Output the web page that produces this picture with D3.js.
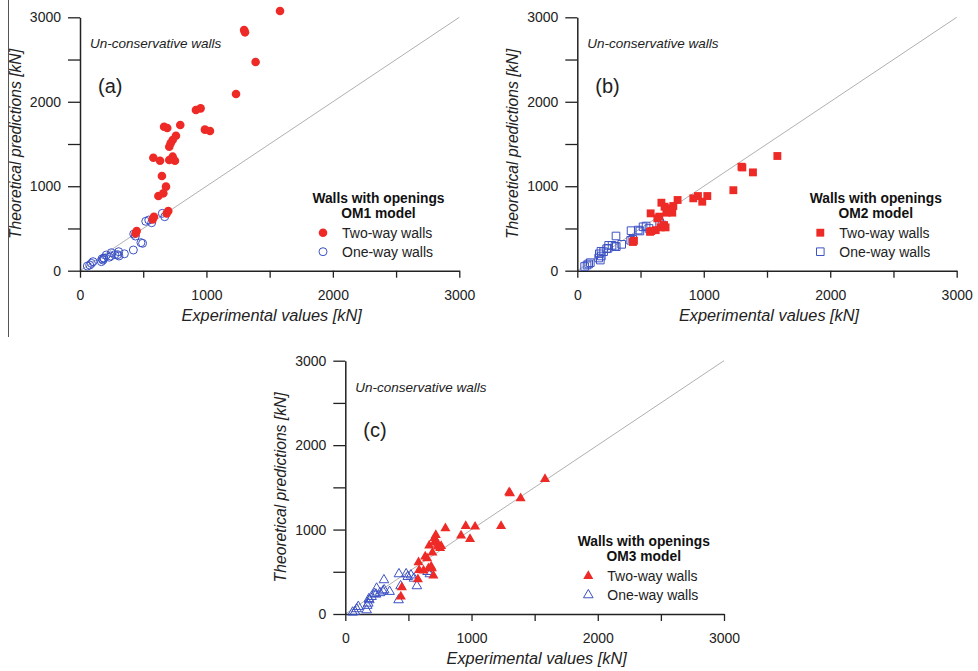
<!DOCTYPE html>
<html><head><meta charset="utf-8">
<script src="https://cdn.jsdelivr.net/npm/d3@7"></script>
<style>
body{margin:0;background:#fff;}
svg{display:block;font-family:"Liberation Sans",Arial,sans-serif;}
</style></head>
<body><svg id="chart" width="978" height="671"></svg>
<script>
// ---- data ----
const axisTicks = [0, 500, 1000, 1500, 2000, 2500, 3000];
const tickLabels = ["0", "", "1000", "", "2000", "", "3000"];
const panelLetters = ["(a)", "(b)", "(c)"];
const modelNames = ["OM1 model", "OM2 model", "OM3 model"];
const seriesNames = ["Two-way walls", "One-way walls"];

// experimental values (shared by all models)
const twoWayExp = [1582,1298,1305,1389,1234,917,954,988,1028,793,665,690,759,733,717,706,580,633,706,733,751,648,680,659,620,698,686,585,575,448,440];
const twoWayOM1 = [3075,2850,2822,2471,2092,1902,1922,1670,1654,1725,1705,1690,1598,1547,1508,1468,1338,1302,1310,1350,1302,1121,995,916,884,707,679,639,608,470,442];
const twoWayOM2 = [1358,1231,1222,1164,953,857,884,817,884,837,805,758,766,726,740,699,679,620,687,700,687,640,529,513,480,513,540,470,460,355,340];
const twoWayOM3 = [1599,1441,1430,1370,1042,928,1042,888,1034,1015,809,726,805,797,936,900,612,679,850,830,780,660,561,540,513,454,540,521,411,316,205];

const oneWayExp = [651,670,544,567,425,438,482,495,422,306,308,248,243,208,190,174,182,169,103,90,77,58,298,351,232,187,520,275];
const oneWayOM1 = [679,639,600,568,434,410,332,324,245,225,174,213,174,186,146,140,126,107,107,87,67,55,190,200,160,150,585,190];
const oneWayOM2 = [568,541,529,500,474,371,481,470,360,411,284,300,265,225,174,200,126,150,95,80,67,50,290,312,260,230,520,300];
const oneWayOM3 = [501,474,422,332,474,332,474,442,166,403,284,304,233,205,166,100,126,47,87,60,28,20,270,265,240,180,460,250];

const twoWayPred = [twoWayOM1, twoWayOM2, twoWayOM3];
const oneWayPred = [oneWayOM1, oneWayOM2, oneWayOM3];

// ---- layout ----
const svg = d3.select("#chart");
const RED = "#ee2a27", BLUE = "#3d52c4";
const panels = [
  {x0: 80, x1: 459.3, yb: 270.7, yt: 17.3, shape: "circle"},
  {x0: 577.3, x1: 956.7, yb: 270.7, yt: 17.3, shape: "square"},
  {x0: 345.3, x1: 724, yb: 614, yt: 360.7, shape: "triangle"}
];
const symType = {circle: d3.symbolCircle, square: d3.symbolSquare, triangle: d3.symbolTriangle};
const symSize = {circle: 58, square: 62, triangle: 44};
const symSizeOpen = {circle: 50, square: 58, triangle: 40};

// frame line at left of panel (a)
svg.append("line").attr("x1", 8.5).attr("x2", 8.5).attr("y1", 0).attr("y2", 337)
  .attr("stroke", "#555").attr("stroke-width", 1);

panels.forEach((p, i) => {
  const x = d3.scaleLinear().domain([0, 3000]).range([p.x0, p.x1]);
  const y = d3.scaleLinear().domain([0, 3000]).range([p.yb, p.yt]);
  const g = svg.append("g");

  // diagonal
  g.append("line")
    .attr("x1", x(0)).attr("y1", y(0)).attr("x2", x(3000)).attr("y2", y(3000))
    .attr("stroke", "#b0b0b0").attr("stroke-width", 1);

  // axes
  const xa = g.append("g").attr("transform", `translate(0,${p.yb})`)
    .call(d3.axisBottom(x).tickValues(axisTicks).tickFormat((d, k) => tickLabels[k]).tickSize(7).tickSizeOuter(0));
  const ya = g.append("g").attr("transform", `translate(${p.x0},0)`)
    .call(d3.axisLeft(y).tickValues(axisTicks).tickFormat((d, k) => tickLabels[k]).tickSize(12).tickSizeOuter(0));
  [xa, ya].forEach(a => {
    a.select(".domain").attr("stroke", "#222").attr("stroke-width", 1.5);
    a.selectAll(".tick line").attr("stroke", "#222").attr("stroke-width", 1.3);
    a.selectAll("text").attr("fill", "#222").style("font-size", "14px").style("font-family", "Liberation Sans, Arial, sans-serif");
  });
  xa.selectAll("text").attr("y", 19);
  ya.selectAll("text").attr("x", -19);

  // axis titles
  g.append("text").attr("x", (p.x0 + p.x1) / 2 + 2).attr("y", p.yb + 50)
    .attr("text-anchor", "middle").attr("font-style", "italic").attr("font-size", 16.3).attr("fill", "#222")
    .text("Experimental values [kN]");
  g.append("text").attr("transform", `translate(${p.x0 - 59},${(p.yb + p.yt) / 2}) rotate(-90)`)
    .attr("text-anchor", "middle").attr("font-style", "italic").attr("font-size", 15.7).attr("fill", "#222")
    .text("Theoretical predictions [kN]");

  // annotation
  g.append("text").attr("x", p.x0 + 10).attr("y", p.yt + 31)
    .attr("font-style", "italic").attr("font-size", 13.5).attr("fill", "#222")
    .text("Un-conservative walls");
  g.append("text").attr("x", p.x0 + 18).attr("y", p.yt + 76)
    .attr("font-size", 20).attr("fill", "#222").text(panelLetters[i]);

  // data: one-way (open) then two-way (filled)
  const sym = d3.symbol().type(symType[p.shape]);
  const oneData = oneWayExp.map((v, k) => [v, oneWayPred[i][k]]);
  const twoData = twoWayExp.map((v, k) => [v, twoWayPred[i][k]]);
  g.append("g").selectAll("path").data(oneData).join("path")
    .attr("transform", d => `translate(${x(d[0])},${y(d[1])})`)
    .attr("d", sym.size(symSizeOpen[p.shape])())
    .attr("fill", "none").attr("stroke", BLUE).attr("stroke-width", 1);
  g.append("g").selectAll("path").data(twoData).join("path")
    .attr("transform", d => `translate(${x(d[0])},${y(d[1])})`)
    .attr("d", d3.symbol().type(symType[p.shape]).size(symSize[p.shape])())
    .attr("fill", RED).attr("stroke", "none");

  // legend
  const lx = p.x0 + 298.5;
  g.append("text").attr("x", lx).attr("y", p.yb - 68).attr("text-anchor", "middle")
    .attr("font-weight", "bold").attr("font-size", 13.8).attr("fill", "#111").text("Walls with openings");
  g.append("text").attr("x", lx).attr("y", p.yb - 53).attr("text-anchor", "middle")
    .attr("font-weight", "bold").attr("font-size", 13.8).attr("fill", "#111").text(modelNames[i]);
  const mx = p.x0 + 243;
  g.append("path").attr("transform", `translate(${mx},${p.yb - 38})`)
    .attr("d", d3.symbol().type(symType[p.shape]).size(symSize[p.shape])()).attr("fill", RED);
  g.append("path").attr("transform", `translate(${mx},${p.yb - 19})`)
    .attr("d", d3.symbol().type(symType[p.shape]).size(symSizeOpen[p.shape])())
    .attr("fill", "none").attr("stroke", BLUE).attr("stroke-width", 1);
  g.append("text").attr("x", p.x0 + 262).attr("y", p.yb - 33).attr("font-size", 14).attr("fill", "#222").text(seriesNames[0]);
  g.append("text").attr("x", p.x0 + 262).attr("y", p.yb - 14).attr("font-size", 14).attr("fill", "#222").text(seriesNames[1]);
});
</script></body></html>
